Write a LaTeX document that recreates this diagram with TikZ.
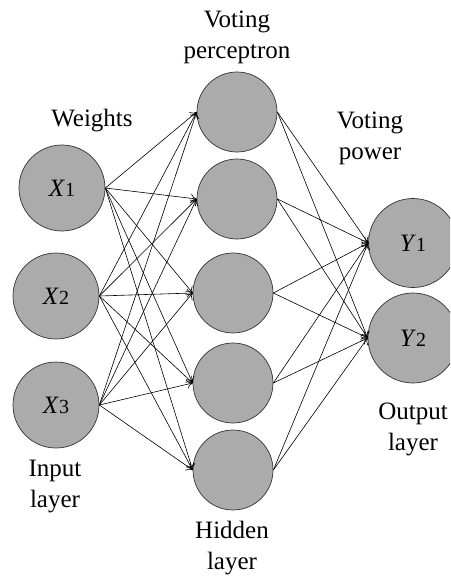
\documentclass[tikz,border=0pt]{standalone}
\usepackage{fontspec}
\setmainfont{Liberation Serif}
\usetikzlibrary{arrows.meta}
\begin{document}
\begin{tikzpicture}[x=1pt,y=-1pt,
  neuron/.style={circle,draw=black!80,line width=0.7pt,fill=black!33,inner sep=0pt},
  lbl/.style={align=center,font=\fontsize{25}{31}\selectfont,inner sep=0pt},
  nlbl/.style={font=\fontsize{25}{30}\selectfont},
  conn/.style={line width=0.6pt,-{To[length=6pt,width=9pt]}}]
\useasboundingbox (0,0) rectangle (450,578);
\begin{scope}
\clip (0,0) rectangle (450,578);
\node[neuron,minimum size=86pt] (x1) at (62,188) {};
\node[neuron,minimum size=86pt] (x2) at (56,296) {};
\node[neuron,minimum size=86pt] (x3) at (56,405) {};
\node[neuron,minimum size=80pt] (h1) at (237,112) {};
\node[neuron,minimum size=80pt] (h2) at (237,199) {};
\node[neuron,minimum size=80pt] (h3) at (233,293) {};
\node[neuron,minimum size=80pt] (h4) at (233,383) {};
\node[neuron,minimum size=80pt] (h5) at (233,470) {};
\node[neuron,minimum size=89pt] (y1) at (413,243) {};
\node[neuron,minimum size=90pt] (y2) at (413,338) {};
\end{scope}
\node[nlbl] at (x1) {\textit{X}\fontsize{20}{20}\selectfont 1};
\node[nlbl] at (x2) {\textit{X}\fontsize{20}{20}\selectfont 2};
\node[nlbl] at (x3) {\textit{X}\fontsize{20}{20}\selectfont 3};
\node[nlbl] at (y1) {\textit{Y}\fontsize{20}{20}\selectfont 1};
\node[nlbl] at (y2) {\textit{Y}\fontsize{20}{20}\selectfont 2};
\foreach \i in {x1,x2,x3}{
  \foreach \j in {h1,h2,h3,h4,h5}{
    \draw[conn] (\i.east) -- (\j.west);
  }
}
\foreach \i in {h1,h2,h3,h4,h5}{
  \foreach \j in {y1,y2}{
    \draw[conn] (\i.east) -- (\j.west);
  }
}
\node[lbl] (tw) at (92,121) {Weights};
\node[lbl] (tvp) at (237,37) {Voting\\perceptron};
\node[lbl] (tvpow) at (370,138) {Voting\\power};
\node[lbl] (tin) at (55,487) {Input\\layer};
\node[lbl] (thid) at (232,548) {Hidden\\layer};
\node[lbl] (tout) at (413,429) {Output\\layer};
\end{tikzpicture}
\end{document}
